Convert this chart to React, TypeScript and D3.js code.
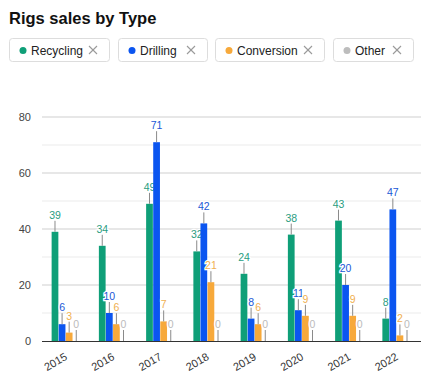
import React from "react";
import * as d3 from "d3";

const years = ["2015", "2016", "2017", "2018", "2019", "2020", "2021", "2022"];
const seriesNames = ["Recycling", "Drilling", "Conversion", "Other"];
const recycling = [39, 34, 49, 32, 24, 38, 43, 8];
const drilling = [6, 10, 71, 42, 8, 11, 20, 47];
const conversion = [3, 6, 7, 21, 6, 9, 9, 2];
const other = [0, 0, 0, 0, 0, 0, 0, 0];
const seriesValues = [recycling, drilling, conversion, other];
const colors = ["#0f9f78", "#0b55f0", "#f7a93b", "#bdbdbd"];
const labelColors = ["#2a9d7f", "#2057d6", "#f0b050", "#bbbbbb"];
const majorTicks = [0, 20, 40, 60, 80];
const minorTicks = [10, 30, 50, 70];

const legendChips = [
  { x: 9, w: 100 },
  { x: 118, w: 89 },
  { x: 215, w: 109 },
  { x: 333, w: 80 },
];

export default function App() {
  const W = 427, H = 379;
  const x0 = d3.scaleBand().domain(years).range([42, 420]).padding(0);
  const x1 = d3.scaleBand().domain(seriesNames).range([-14, 14]).paddingInner(0.05);
  const y = d3.scaleLinear().domain([0, 80]).range([341, 117]);
  const font = "'Liberation Sans', Arial, sans-serif";

  return (
    <svg width={W} height={H} style={{ position: "absolute", left: 0, top: 0, fontFamily: font }}>
      <rect width={W} height={H} fill="#fff" />
      <text x={9} y={24} fontSize={16.5} fontWeight="bold" fill="#111">Rigs sales by Type</text>
      {legendChips.map((c, i) => (
        <g key={i}>
          <rect x={c.x + 0.5} y={38.5} width={c.w} height={23} rx={3} fill="#fff" stroke="#ddd" />
          <circle cx={c.x + 14} cy={50.5} r={3.5} fill={colors[i]} />
          <text x={c.x + 22} y={55} fontSize={12} fill="#222">{seriesNames[i]}</text>
          <g stroke="#9a9a9a" strokeWidth={1.1}>
            <line x1={c.x + c.w - 20} y1={46} x2={c.x + c.w - 12} y2={54} />
            <line x1={c.x + c.w - 12} y1={46} x2={c.x + c.w - 20} y2={54} />
          </g>
        </g>
      ))}
      {minorTicks.map((t) => (
        <line key={"m" + t} x1={42} x2={421} y1={y(t)} y2={y(t)} stroke="#ebebeb" />
      ))}
      {majorTicks.map((t) => (
        <g key={"M" + t}>
          {t !== 0 && <line x1={42} x2={421} y1={y(t)} y2={y(t)} stroke="#cfcfcf" />}
          <text x={31} y={y(t) + 4} fontSize={11} fill="#444" textAnchor="end">{t}</text>
        </g>
      ))}
      {years.map((yr, gi) => {
        const cx = (x0(yr) as number) + x0.bandwidth() / 2;
        return (
          <g key={yr}>
            {seriesNames.map((s, si) => {
              const v = seriesValues[si][gi];
              const bx = cx + (x1(s) as number);
              const bw = x1.bandwidth();
              const mid = bx + bw / 2;
              const top = y(v);
              return (
                <g key={s}>
                  {v > 0 && <rect x={bx} y={top} width={bw} height={341 - top} fill={colors[si]} />}
                  <line x1={mid} x2={mid} y1={top} y2={top - 11} stroke="#8a8a8a" strokeWidth={1} />
                  <text
                    x={mid}
                    y={top - 13}
                    fontSize={10.5}
                    textAnchor="middle"
                    fill={labelColors[si]}
                    stroke="#fff"
                    strokeWidth={2.5}
                    paintOrder="stroke"
                  >
                    {v}
                  </text>
                </g>
              );
            })}
            <text
              transform={`translate(${cx + 2.5},${359}) rotate(-30)`}
              fontSize={11}
              fill="#333"
              textAnchor="end"
            >
              {yr}
            </text>
          </g>
        );
      })}
      <line x1={42} x2={421} y1={341.5} y2={341.5} stroke="#333" strokeWidth={1.2} />
    </svg>
  );
}
